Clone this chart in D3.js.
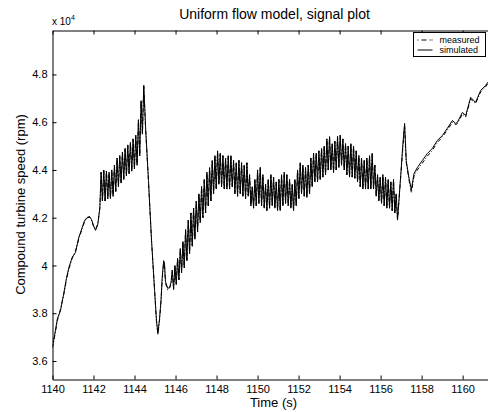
<!DOCTYPE html>
<html>
<head>
<meta charset="utf-8">
<script src="https://cdn.jsdelivr.net/npm/d3@7"></script>
<style>
  body { margin: 0; background: #fff; }
  text { font-family: "Liberation Sans", Arial, Helvetica, sans-serif; fill: #000; }
</style>
</head>
<body>
<svg id="chart" width="488" height="412"></svg>
<script>
// speeds are in units of 10^4 rpm, times in s

// smooth run-up before the first oscillation burst
var rampTime = [1140.00, 1140.10, 1140.24, 1140.39, 1140.55, 1140.68, 1140.80, 1140.96, 1141.12, 1141.28,
                1141.45, 1141.56, 1141.69, 1141.80, 1141.90, 1142.00, 1142.10, 1142.21, 1142.31];
var rampSim  = [3.661, 3.707, 3.778, 3.811, 3.883, 3.946, 3.992, 4.034, 4.054, 4.117,
                4.159, 4.188, 4.201, 4.205, 4.193, 4.168, 4.147, 4.172, 4.243];
var rampMeas = [3.655, 3.700, 3.770, 3.818, 3.878, 3.940, 3.985, 4.030, 4.060, 4.110,
                4.155, 4.183, 4.198, 4.203, 4.190, 4.163, 4.150, 4.175, 4.240];

// oscillation bursts: successive peaks / troughs, one every half period
var halfPeriod = 0.065;
var burst1Start = 1142.37;
var burst1 = [4.39, 4.27, 4.40, 4.27, 4.395, 4.28, 4.39, 4.28, 4.40, 4.29,
              4.42, 4.31, 4.45, 4.33, 4.46, 4.345, 4.475, 4.36, 4.49, 4.375,
              4.505, 4.385, 4.515, 4.395, 4.53, 4.405, 4.545, 4.42, 4.61, 4.46,
              4.69, 4.55, 4.754];

// drop after the first burst
var dropTime = [1144.54, 1144.68, 1144.83, 1144.98, 1145.07, 1145.14, 1145.22, 1145.29, 1145.35, 1145.42,
                1145.46, 1145.51, 1145.62, 1145.71, 1145.78];
var dropSim  = [4.579, 4.356, 4.105, 3.895, 3.770, 3.715, 3.778, 3.853, 3.950, 4.020,
                4.010, 3.933, 3.904, 3.908, 3.929];
var dropMeas = [4.570, 4.350, 4.100, 3.890, 3.765, 3.712, 3.770, 3.845, 3.942, 4.012,
                4.002, 3.925, 3.898, 3.905, 3.925];

var burst2Start = 1145.84;
var burst2 = [3.98, 3.90, 4.00, 3.92, 4.03, 3.94, 4.07, 3.97, 4.10, 3.99,
              4.15, 4.02, 4.19, 4.05, 4.22, 4.08, 4.24, 4.11, 4.27, 4.14,
              4.30, 4.18, 4.33, 4.20, 4.36, 4.22, 4.39, 4.25, 4.41, 4.27,
              4.44, 4.30, 4.46, 4.32, 4.48, 4.34, 4.47, 4.33, 4.46, 4.32,
              4.45, 4.32, 4.46, 4.32, 4.46, 4.33, 4.44, 4.30, 4.43, 4.29,
              4.44, 4.30, 4.43, 4.29, 4.42, 4.28, 4.43, 4.29, 4.38, 4.25,
              4.33, 4.24, 4.36, 4.25, 4.40, 4.26, 4.41, 4.25, 4.38, 4.24,
              4.34, 4.23, 4.36, 4.24, 4.38, 4.25, 4.37, 4.24, 4.35, 4.23,
              4.36, 4.23, 4.38, 4.25, 4.39, 4.26, 4.38, 4.25, 4.36, 4.24,
              4.34, 4.23, 4.36, 4.25, 4.40, 4.28, 4.43, 4.30, 4.42, 4.29,
              4.41, 4.285, 4.42, 4.30, 4.45, 4.33, 4.47, 4.35, 4.47, 4.35,
              4.48, 4.36, 4.49, 4.37, 4.50, 4.38, 4.53, 4.40, 4.54, 4.40,
              4.51, 4.39, 4.52, 4.40, 4.54, 4.41, 4.545, 4.42, 4.53, 4.40,
              4.51, 4.38, 4.50, 4.37, 4.51, 4.37, 4.50, 4.365, 4.48, 4.35,
              4.46, 4.33, 4.45, 4.32, 4.44, 4.32, 4.45, 4.32, 4.46, 4.32,
              4.47, 4.32, 4.42, 4.29, 4.38, 4.27, 4.37, 4.26, 4.38, 4.25,
              4.37, 4.24, 4.36, 4.24, 4.35, 4.23, 4.36, 4.22, 4.30, 4.19];

// spike and final smooth climb
var climbTime = [1156.98, 1157.09, 1157.17, 1157.25, 1157.38, 1157.50, 1157.63, 1157.79, 1158.03, 1158.28,
                 1158.52, 1158.77, 1159.01, 1159.25, 1159.50, 1159.66, 1159.74, 1159.99, 1160.15, 1160.39,
                 1160.63, 1160.88, 1161.12, 1161.37, 1161.70];
var climbSim  = [4.377, 4.511, 4.595, 4.439, 4.368, 4.318, 4.385, 4.410, 4.439, 4.469,
                 4.490, 4.524, 4.544, 4.574, 4.607, 4.595, 4.599, 4.641, 4.628, 4.704,
                 4.683, 4.733, 4.754, 4.783, 4.800];
var climbMeas = [4.370, 4.500, 4.585, 4.430, 4.360, 4.305, 4.375, 4.400, 4.428, 4.458,
                 4.482, 4.515, 4.538, 4.566, 4.600, 4.590, 4.594, 4.634, 4.622, 4.697,
                 4.678, 4.727, 4.748, 4.778, 4.795];

var xTicks = [1140, 1142, 1144, 1146, 1148, 1150, 1152, 1154, 1156, 1158, 1160];
var yTicks = [3.6, 3.8, 4.0, 4.2, 4.4, 4.6, 4.8];
var legendNames = ["measured", "simulated"];

function pairs(times, vals) {
  return times.map(function (t, i) { return {t: t, v: vals[i]}; });
}
function burst(start, vals) {
  return vals.map(function (v, i) { return {t: start + i * halfPeriod, v: v}; });
}

var simulated = [].concat(pairs(rampTime, rampSim), burst(burst1Start, burst1), pairs(dropTime, dropSim),
                          burst(burst2Start, burst2), pairs(climbTime, climbSim));
var measured  = [].concat(pairs(rampTime, rampMeas), burst(burst1Start, burst1), pairs(dropTime, dropMeas),
                          burst(burst2Start, burst2), pairs(climbTime, climbMeas));

var margin = {top: 30, left: 52};
var width = 445, height = 349;

var x = d3.scaleLinear().domain([1140, 1161.7]).range([0, width]);
var y = d3.scaleLinear().domain([3.5225, 4.984]).range([height, 0]);

var svg = d3.select('#chart');
svg.append('rect').attr('width', 488).attr('height', 412).attr('fill', '#fff');

var main = svg.append('g')
    .attr('transform', 'translate(' + (margin.left + 0.5) + ',' + (margin.top + 0.5) + ')');

main.append('clipPath').attr('id', 'plotclip')
  .append('rect').attr('width', width).attr('height', height);

var line = d3.line()
    .x(function (d) { return x(d.t); })
    .y(function (d) { return y(d.v); });

var g = main.append('g').attr('clip-path', 'url(#plotclip)');

g.append('path').datum(measured)
    .attr('d', line)
    .attr('fill', 'none')
    .attr('stroke', '#000')
    .attr('stroke-width', 1)
    .attr('stroke-dasharray', '4,2,1,2');

g.append('path').datum(simulated)
    .attr('d', line)
    .attr('fill', 'none')
    .attr('stroke', '#000')
    .attr('stroke-width', 1);

// axes, ticks pointing inwards
var xAxis = d3.axisBottom(x).tickValues(xTicks).tickSize(-4).tickSizeOuter(0).tickPadding(6)
    .tickFormat(d3.format('d'));
main.append('g').attr('transform', 'translate(0,' + height + ')').call(xAxis);

var xTop = d3.axisTop(x).tickValues(xTicks).tickSize(-4).tickSizeOuter(0).tickFormat('');
main.append('g').call(xTop);

var yAxis = d3.axisLeft(y).tickValues(yTicks).tickSize(-4).tickSizeOuter(0).tickPadding(5)
    .tickFormat(function (d) { return d3.format('')(+d.toFixed(1)); });
main.append('g').call(yAxis);

main.selectAll('.tick text')
    .attr('font-family', '"Liberation Sans", Arial, sans-serif')
    .attr('font-size', 11)
    .attr('fill', '#000');
main.selectAll('.domain, .tick line').attr('stroke', '#000');

// frame right edge (outside the view, like the original crop)
main.append('line').attr('x1', width).attr('x2', width).attr('y1', 0).attr('y2', height)
    .attr('stroke', '#000');

// exponent label
var expo = svg.append('text').attr('x', 52).attr('y', 25).attr('font-size', 10);
expo.append('tspan').text('x 10');
expo.append('tspan').attr('font-size', 7).attr('dy', -5).text('4');

svg.append('text')
    .attr('x', 274.5).attr('y', 19)
    .attr('text-anchor', 'middle')
    .attr('font-size', 14)
    .text('Uniform flow model, signal plot');

svg.append('text')
    .attr('x', 273.5).attr('y', 407)
    .attr('text-anchor', 'middle')
    .attr('font-size', 13)
    .text('Time (s)');

svg.append('text')
    .attr('transform', 'translate(25,204.5) rotate(-90)')
    .attr('text-anchor', 'middle')
    .attr('font-size', 13)
    .text('Compound turbine speed (rpm)');

// legend
var legend = svg.append('g').attr('transform', 'translate(413.5,32.5)');
legend.append('rect').attr('width', 72).attr('height', 24)
    .attr('fill', '#fff').attr('stroke', '#000');
legendNames.forEach(function (name, i) {
  var ly = 7.5 + i * 10;
  legend.append('line')
      .attr('x1', 4).attr('x2', 19).attr('y1', ly).attr('y2', ly)
      .attr('stroke', '#000')
      .attr('stroke-dasharray', i === 0 ? '1,3,5,3,1' : null);
  legend.append('text')
      .attr('x', 26).attr('y', ly + 3)
      .attr('font-size', 9)
      .text(name);
});
</script>
</body>
</html>
